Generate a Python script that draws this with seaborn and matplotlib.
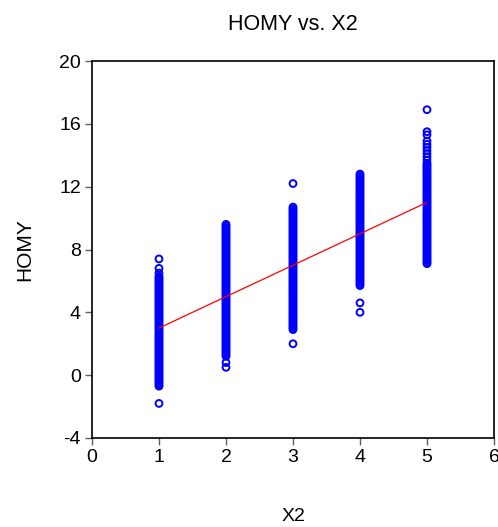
import matplotlib
matplotlib.use("Agg")
import matplotlib.pyplot as plt
import seaborn as sns
import pandas as pd

# values
homy_x1 = [-1.8,
           -0.7, -0.6, -0.5, -0.4, -0.3, -0.2, -0.1, 0.0, 0.1, 0.2, 0.3, 0.4, 0.5, 0.6,
           0.7, 0.8, 0.9, 1.0, 1.1, 1.2, 1.3, 1.4, 1.5, 1.6, 1.7, 1.8, 1.9, 2.0, 2.1,
           2.2, 2.3, 2.4, 2.5, 2.6, 2.7, 2.8, 2.9, 3.0, 3.1, 3.2, 3.3, 3.4, 3.5, 3.6,
           3.7, 3.8, 3.9, 4.0, 4.1, 4.2, 4.3, 4.4, 4.5, 4.6, 4.7, 4.8, 4.9, 5.0, 5.1,
           5.2, 5.3, 5.4, 5.5, 5.6, 5.7, 5.8, 5.9, 6.0, 6.1, 6.2, 6.3,
           6.5, 6.8, 7.4]
homy_x2 = [0.5, 0.8,
           1.2, 1.3, 1.4, 1.5, 1.6, 1.7, 1.8, 1.9, 2.0, 2.1, 2.2, 2.3, 2.4, 2.5, 2.6,
           2.7, 2.8, 2.9, 3.0, 3.1, 3.2, 3.3, 3.4, 3.5, 3.6, 3.7, 3.8, 3.9, 4.0, 4.1,
           4.2, 4.3, 4.4, 4.5, 4.6, 4.7, 4.8, 4.9, 5.0, 5.1, 5.2, 5.3, 5.4, 5.5, 5.6,
           5.7, 5.8, 5.9, 6.0, 6.1, 6.2, 6.3, 6.4, 6.5, 6.6, 6.7, 6.8, 6.9, 7.0, 7.1,
           7.2, 7.3, 7.4, 7.5, 7.6, 7.7, 7.8, 7.9, 8.0, 8.1, 8.2, 8.3, 8.4, 8.5, 8.6,
           8.7, 8.8, 8.9, 9.0, 9.1, 9.2, 9.3, 9.4, 9.5, 9.6]
homy_x3 = [2.0,
           2.9, 3.0, 3.1, 3.2, 3.3, 3.4, 3.5, 3.6, 3.7, 3.8, 3.9, 4.0, 4.1, 4.2, 4.3,
           4.4, 4.5, 4.6, 4.7, 4.8, 4.9, 5.0, 5.1, 5.2, 5.3, 5.4, 5.5, 5.6, 5.7, 5.8,
           5.9, 6.0, 6.1, 6.2, 6.3, 6.4, 6.5, 6.6, 6.7, 6.8, 6.9, 7.0, 7.1, 7.2, 7.3,
           7.4, 7.5, 7.6, 7.7, 7.8, 7.9, 8.0, 8.1, 8.2, 8.3, 8.4, 8.5, 8.6, 8.7, 8.8,
           8.9, 9.0, 9.1, 9.2, 9.3, 9.4, 9.5, 9.6, 9.7, 9.8, 9.9, 10.0, 10.1, 10.2,
           10.3, 10.4, 10.5, 10.6, 10.7,
           12.2]
homy_x4 = [4.0, 4.6,
           5.7, 5.8, 5.9, 6.0, 6.1, 6.2, 6.3, 6.4, 6.5, 6.6, 6.7, 6.8, 6.9, 7.0, 7.1,
           7.2, 7.3, 7.4, 7.5, 7.6, 7.7, 7.8, 7.9, 8.0, 8.1, 8.2, 8.3, 8.4, 8.5, 8.6,
           8.7, 8.8, 8.9, 9.0, 9.1, 9.2, 9.3, 9.4, 9.5, 9.6, 9.7, 9.8, 9.9, 10.0,
           10.1, 10.2, 10.3, 10.4, 10.5, 10.6, 10.7, 10.8, 10.9, 11.0, 11.1, 11.2,
           11.3, 11.4, 11.5, 11.6, 11.7, 11.8, 11.9, 12.0, 12.1, 12.2, 12.3, 12.4,
           12.5, 12.6, 12.7, 12.8]
homy_x5 = [7.1, 7.2, 7.3, 7.4, 7.5, 7.6, 7.7, 7.8, 7.9, 8.0, 8.1, 8.2, 8.3, 8.4,
           8.5, 8.6, 8.7, 8.8, 8.9, 9.0, 9.1, 9.2, 9.3, 9.4, 9.5, 9.6, 9.7, 9.8, 9.9,
           10.0, 10.1, 10.2, 10.3, 10.4, 10.5, 10.6, 10.7, 10.8, 10.9, 11.0, 11.1,
           11.2, 11.3, 11.4, 11.5, 11.6, 11.7, 11.8, 11.9, 12.0, 12.1, 12.2, 12.3,
           12.4, 12.5, 12.6, 12.7, 12.8, 12.9, 13.0, 13.1, 13.2, 13.3, 13.4, 13.5,
           13.7, 13.9, 14.1, 14.3, 14.5, 14.7, 14.9, 15.3, 15.5, 16.9]
x_levels = [1, 2, 3, 4, 5]
fit_x = [1, 5]
fit_y = [3.0, 11.0]
x_ticks = [0, 1, 2, 3, 4, 5, 6]
y_ticks = [-4, 0, 4, 8, 12, 16, 20]

groups = [homy_x1, homy_x2, homy_x3, homy_x4, homy_x5]
rows = []
for xv, ys in zip(x_levels, groups):
    for yv in ys:
        rows.append((xv, yv))
df = pd.DataFrame(rows, columns=["X2", "HOMY"])
fit = pd.DataFrame({"X2": fit_x, "HOMY": fit_y})

sns.set_style("white")
plt.rcParams["font.family"] = ["Liberation Sans", "DejaVu Sans"]
plt.rcParams["axes.unicode_minus"] = False

fig = plt.figure(figsize=(4.98, 5.27), dpi=100)
ax = fig.add_axes([92 / 498, 89 / 527, 402 / 498, 377 / 527])

sns.scatterplot(data=df, x="X2", y="HOMY", ax=ax, marker="o", s=24,
                facecolors="none", edgecolor="#0000ff", linewidth=1.4)
sns.lineplot(data=fit, x="X2", y="HOMY", ax=ax, color="#ff0000", linewidth=0.9)

ax.set_xlim(0, 6)
ax.set_ylim(-4, 20)
ax.set_xticks(x_ticks)
ax.set_yticks(y_ticks)
for s in ax.spines.values():
    s.set_color("black")
    s.set_linewidth(1.2)
ax.tick_params(axis="both", direction="out", length=5, width=1, color="#606060",
               labelsize=14, labelcolor="black", pad=3, bottom=True, left=True)
ax.set_xlabel("X2", fontsize=14, labelpad=30, color="black")
ax.set_ylabel("HOMY", fontsize=15, labelpad=18, color="black")
ax.set_title("HOMY vs. X2", fontsize=15.5, pad=22, color="black")

fig.savefig("out.png", dpi=100)
